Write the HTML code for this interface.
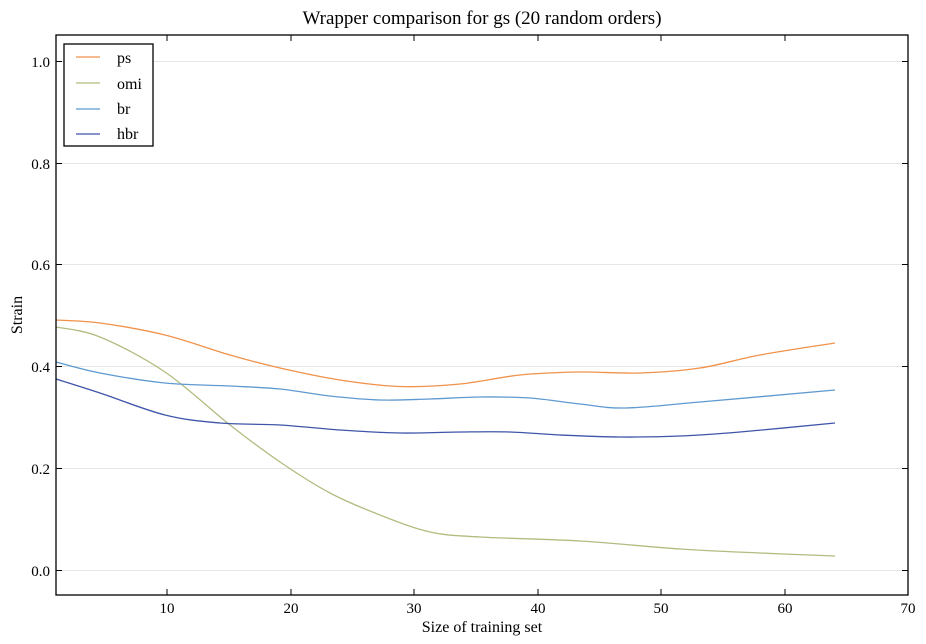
<!DOCTYPE html>
<html><head><meta charset="utf-8"><style>
html,body{margin:0;padding:0;background:#fff;}
svg{display:block;font-family:"Liberation Serif",serif;}
</style></head><body>
<svg id="s" width="926" height="644" viewBox="0 0 926 644" xmlns="http://www.w3.org/2000/svg">
<rect width="926" height="644" fill="#fff"/>
<text x="482" y="24" font-size="19" text-anchor="middle">Wrapper comparison for gs (20 random orders)</text>
<g stroke="#e6e6e6" stroke-width="1">
<line x1="56" x2="908" y1="61.5" y2="61.5"/><line x1="56" x2="908" y1="163.5" y2="163.5"/>
<line x1="56" x2="908" y1="264.5" y2="264.5"/><line x1="56" x2="908" y1="366.5" y2="366.5"/>
<line x1="56" x2="908" y1="468.5" y2="468.5"/><line x1="56" x2="908" y1="570.5" y2="570.5"/>
</g>
<g id="curves" fill="none" stroke-width="1.3"></g>
<rect x="56" y="35" width="852" height="560" fill="none" stroke="#000" stroke-width="1.3"/>
<g stroke="#000" stroke-width="1">
<line x1="167" x2="167" y1="595" y2="589"/><line x1="291" x2="291" y1="595" y2="589"/><line x1="414" x2="414" y1="595" y2="589"/><line x1="538" x2="538" y1="595" y2="589"/><line x1="661" x2="661" y1="595" y2="589"/><line x1="785" x2="785" y1="595" y2="589"/>
<line x1="167" x2="167" y1="35" y2="41"/><line x1="291" x2="291" y1="35" y2="41"/><line x1="414" x2="414" y1="35" y2="41"/><line x1="538" x2="538" y1="35" y2="41"/><line x1="661" x2="661" y1="35" y2="41"/><line x1="785" x2="785" y1="35" y2="41"/>
<line x1="56" x2="62" y1="61.5" y2="61.5"/><line x1="56" x2="62" y1="163.5" y2="163.5"/><line x1="56" x2="62" y1="264.5" y2="264.5"/><line x1="56" x2="62" y1="366.5" y2="366.5"/><line x1="56" x2="62" y1="468.5" y2="468.5"/><line x1="56" x2="62" y1="570.5" y2="570.5"/>
<line x1="908" x2="902" y1="61.5" y2="61.5"/><line x1="908" x2="902" y1="163.5" y2="163.5"/><line x1="908" x2="902" y1="264.5" y2="264.5"/><line x1="908" x2="902" y1="366.5" y2="366.5"/><line x1="908" x2="902" y1="468.5" y2="468.5"/><line x1="908" x2="902" y1="570.5" y2="570.5"/>
</g>
<g font-size="15" text-anchor="middle">
<text x="167" y="613">10</text><text x="291" y="613">20</text><text x="414" y="613">30</text><text x="538" y="613">40</text><text x="661" y="613">50</text><text x="785" y="613">60</text><text x="908" y="613">70</text>
</g>
<g font-size="15" text-anchor="end">
<text x="50" y="67">1.0</text><text x="50" y="169">0.8</text><text x="50" y="270">0.6</text><text x="50" y="372">0.4</text><text x="50" y="474">0.2</text><text x="50" y="576">0.0</text>
</g>
<text x="482" y="632" font-size="16" text-anchor="middle">Size of training set</text>
<text transform="translate(22,315) rotate(-90)" font-size="16" text-anchor="middle">Strain</text>
<rect x="64" y="44" width="89" height="102" fill="#fff" stroke="#000" stroke-width="1.3"/>
<g stroke-width="1.3">
<line x1="76" x2="100" y1="57" y2="57" stroke="#f0924a"/>
<line x1="76" x2="100" y1="83" y2="83" stroke="#b0bd80"/>
<line x1="76" x2="100" y1="109" y2="109" stroke="#5e9ad0"/>
<line x1="76" x2="100" y1="134" y2="134" stroke="#3f55aa"/>
</g>
<g font-size="16"><text x="117" y="63">ps</text><text x="117" y="89">omi</text><text x="117" y="114">br</text><text x="117" y="139">hbr</text></g>
</svg>
<script>
var S={
"#f0924a":[[56,320],[100,323],[165,335],[230,355],[280,368],[340,380],[400,386.5],[460,384],[520,375],[580,372],[640,373],[700,368],[760,355],[835,343]],
"#b0bd80":[[56,327],[100,337],[165,372],[230,425],[280,462],[330,493],[380,515],[430,532],[480,537],[580,541],[680,549],[760,553],[835,556]],
"#5e9ad0":[[56,362],[100,373],[165,383],[230,386],[280,389],[330,396],[380,400],[430,399],[480,397],[530,398],[580,404],[625,408],[700,402],[835,390]],
"#3f55aa":[[56,379],[100,393],[165,415],[220,423],[280,425],[340,430],[400,433],[460,432],[510,432],[560,435],[620,437],[680,436],[740,432],[835,423]]
};
var g=document.getElementById("curves"),ns="http://www.w3.org/2000/svg";
for(var c in S){var p=S[c],d="M"+p[0][0]+","+p[0][1];
for(var i=0;i<p.length-1;i++){var a=p[i-1]||p[i],b=p[i],e=p[i+1],f=p[i+2]||e;
d+=" C"+(b[0]+(e[0]-a[0])/6)+","+(b[1]+(e[1]-a[1])/6)+" "+(e[0]-(f[0]-b[0])/6)+","+(e[1]-(f[1]-b[1])/6)+" "+e[0]+","+e[1];}
var el=document.createElementNS(ns,"path");el.setAttribute("d",d);el.setAttribute("stroke",c);g.appendChild(el);}
</script>
</body></html>
